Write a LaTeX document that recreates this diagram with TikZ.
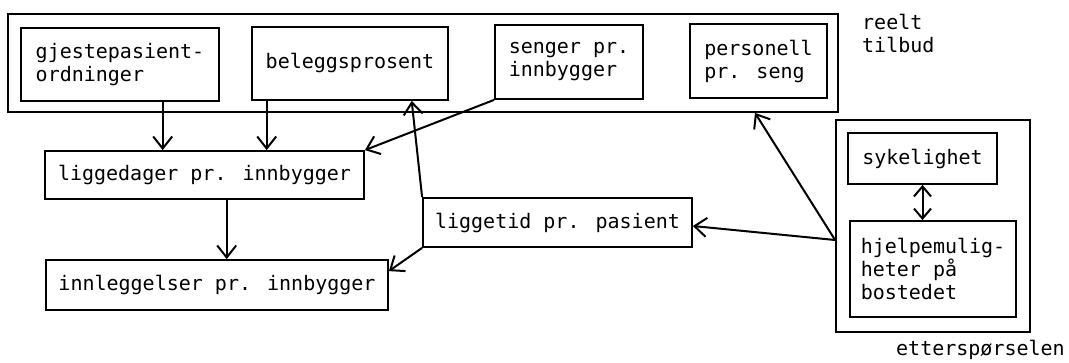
\documentclass[tikz,border=0pt]{standalone}
\usepackage{fontspec}
\setmainfont{DejaVu Sans Mono}
\usetikzlibrary{arrows.meta,calc}
\begin{document}
\begin{tikzpicture}[x=1pt,y=-1pt,
  txt/.style={font=\fontsize{20}{23}\selectfont},
  box/.style={txt, draw, line width=1.8pt, inner sep=0pt, align=left},
  lbl/.style={txt, inner sep=0pt, align=left},
  arr/.style={line width=2pt, -{Straight Barb[length=12pt,width=19pt]}},
  darr/.style={line width=2pt, {Straight Barb[length=10pt,width=17pt]}-{Straight Barb[length=10pt,width=17pt]}}
]
\useasboundingbox (0,0) rectangle (1069,363);
% outer boxes
\node[box, minimum width=830pt, minimum height=98pt] (top) at (423,63) {};
\node[box, minimum width=194pt, minimum height=212pt] (ett) at (933,226) {};
% top row
\node[box, minimum width=198pt, minimum height=73pt] (gj) at (120,64.5) {gjestepasient-\\ordninger};
\node[box, minimum width=196pt, minimum height=73pt] (bel) at (350,63.5) {beleggsprosent};
\node[box, minimum width=148pt, minimum height=74pt] (sen) at (569,62) {senger pr.\\innbygger};
\node[box, minimum width=137pt, minimum height=74pt] (pers) at (758.5,61) {personell\\pr. seng};
% middle
\node[box, minimum width=319pt, minimum height=48pt] (lig) at (204.5,175) {liggedager pr. innbygger};
\node[box, minimum width=342pt, minimum height=50pt] (inn) at (217,285) {innleggelser pr. innbygger};
\node[box, minimum width=269pt, minimum height=49pt] (lt) at (557.5,222.5) {liggetid pr. pasient};
% right
\node[box, minimum width=149pt, minimum height=51pt] (syk) at (922.5,158.5) {sykelighet};
\node[box, minimum width=166pt, minimum height=96pt] (hj) at (933,269) {hjelpemulig-\\heter på\\bostedet};
% labels
\node[lbl, anchor=north west] (rt) at (862,14) {reelt\\tilbud};
\node[lbl, anchor=base west] (et) at (896,356) {etterspørselen};
% connectors
\coordinate (a1) at ($(gj.south)+(42.7,0)$);
\coordinate (a2) at ($(bel.south)+(-83.3,0)$);
\coordinate (a3) at ($(lig.south)+(22.2,0)$);
\coordinate (a4) at ($(bel.south)+(61.7,0)$);
\coordinate (conv) at ($(ett.west)+(0,14)$);
\draw[arr] (a1) -- (a1 |- lig.north);
\draw[arr] (a2) -- (a2 |- lig.north);
\draw[arr] (sen.south west) -- (lig.north east);
\draw[arr] (a3) -- (a3 |- inn.north);
\draw[arr] (lt.north west) -- (a4);
\draw[arr] (lt.south west) -- ($(inn.north east)+(0,12)$);
\draw[arr] (conv) -- ($(lt.east)+(0,3.5)$);
\draw[arr] (conv) -- ($(pers.south |- top.south)+(-3.5,0)$);
\draw[darr] (syk.south) -- (syk.south |- hj.north);
\end{tikzpicture}
\end{document}
